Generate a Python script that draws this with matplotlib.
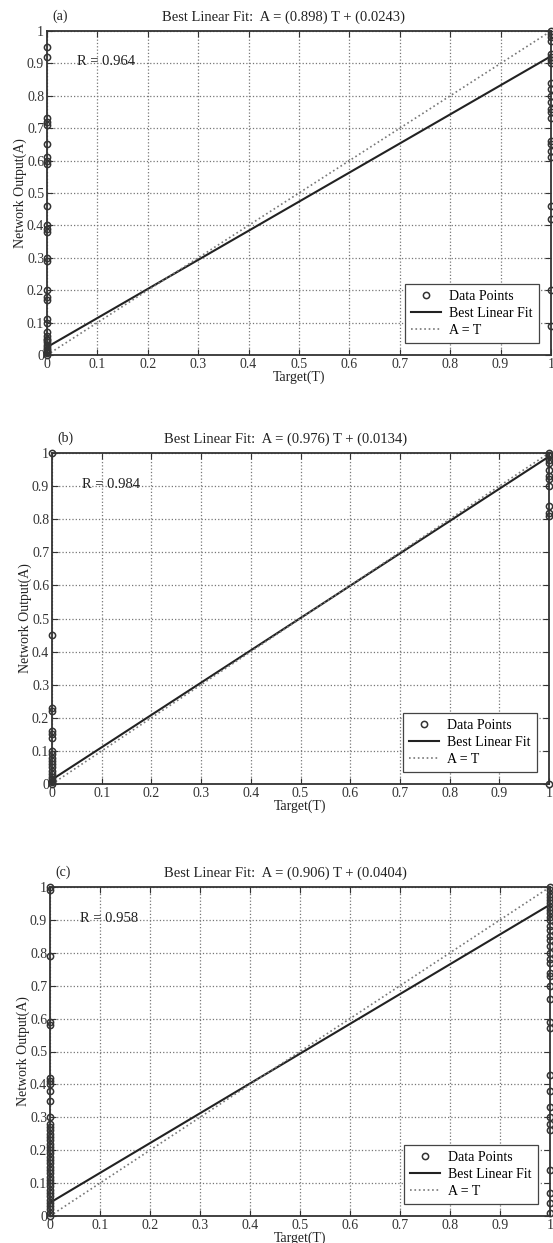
import numpy as np
import matplotlib
matplotlib.use("Agg")
import matplotlib.pyplot as plt

plt.rcParams['font.family'] = ['Liberation Serif', 'DejaVu Serif']

# panel (a)
a_left = [0.95, 0.92, 0.73, 0.72, 0.71, 0.65, 0.61, 0.60, 0.59, 0.46, 0.40, 0.39, 0.38,
          0.30, 0.29, 0.20, 0.18, 0.17, 0.11, 0.10, 0.07, 0.06, 0.05, 0.045, 0.04, 0.03,
          0.025, 0.02, 0.015, 0.01, 0.005, 0.0]
a_right = [1.0, 0.99, 0.98, 0.97, 0.93, 0.92, 0.91, 0.90, 0.84, 0.82, 0.80, 0.78, 0.76,
           0.75, 0.73, 0.66, 0.65, 0.63, 0.61, 0.46, 0.42, 0.20, 0.09]
a_slope, a_icpt, a_r = 0.898, 0.0243, 0.964

# panel (b)
b_left = [1.0, 0.45, 0.23, 0.22, 0.16, 0.15, 0.14, 0.10, 0.09, 0.08, 0.07, 0.06, 0.05,
          0.04, 0.03, 0.02, 0.015, 0.01, 0.005, 0.0]
b_right = [1.0, 0.995, 0.99, 0.98, 0.97, 0.95, 0.93, 0.92, 0.90, 0.84, 0.82, 0.81, 0.0]
b_slope, b_icpt, b_r = 0.976, 0.0134, 0.984

# panel (c)
c_left = [1.0, 0.99, 0.79, 0.59, 0.58, 0.42, 0.41, 0.40, 0.38, 0.35, 0.30, 0.28, 0.27,
          0.26, 0.25, 0.24, 0.23, 0.22, 0.21, 0.20, 0.19, 0.18, 0.17, 0.16, 0.15, 0.14,
          0.13, 0.12, 0.11, 0.10, 0.09, 0.08, 0.07, 0.06, 0.05, 0.04, 0.03, 0.02, 0.01, 0.0]
c_right = [1.0, 0.99, 0.98, 0.97, 0.96, 0.95, 0.94, 0.93, 0.92, 0.91, 0.90, 0.88, 0.87,
           0.85, 0.84, 0.82, 0.80, 0.78, 0.77, 0.74, 0.73, 0.70, 0.66, 0.59, 0.57, 0.43,
           0.38, 0.33, 0.30, 0.28, 0.26, 0.14, 0.07, 0.04, 0.01]
c_slope, c_icpt, c_r = 0.906, 0.0404, 0.958

panels = [
    ("(a)", a_left, a_right, a_slope, a_icpt, a_r, [47/553, 888/1243, 504/553, 324/1243]),
    ("(b)", b_left, b_right, b_slope, b_icpt, b_r, [52/553, 459/1243, 497/553, 331/1243]),
    ("(c)", c_left, c_right, c_slope, c_icpt, c_r, [50/553, 27/1243, 500/553, 329/1243]),
]

fig = plt.figure(figsize=(5.53, 12.43), dpi=100)
ticks = np.round(np.arange(0, 1.01, 0.1), 1)
ticklabels = ['0'] + ['%.1f' % t for t in ticks[1:-1]] + ['1']

for tag, left, right, m, b, r, rect in panels:
    ax = fig.add_axes(rect)
    xs = [0] * len(left) + [1] * len(right)
    ys = left + right
    ax.plot(xs, ys, 'o', mfc='none', mec='#333333', ms=4.5, mew=1.1, label='Data Points',
            clip_on=False, zorder=5)
    t = np.array([0, 1])
    ax.plot(t, m * t + b, '-', color='#222222', lw=1.5, label='Best Linear Fit')
    ax.plot(t, t, ':', color='#777777', lw=1.2, label='A = T')
    ax.set_xlim(0, 1)
    ax.set_ylim(0, 1)
    ax.set_xticks(ticks)
    ax.set_yticks(ticks)
    ax.set_xticklabels(ticklabels)
    ax.set_yticklabels(ticklabels)
    ax.grid(True, linestyle=':', color='#777777', lw=0.9)
    ax.tick_params(direction='in', top=True, right=True, labelsize=10, length=4,
                   colors='#333333', pad=2)
    for s in ax.spines.values():
        s.set_linewidth(1.3)
        s.set_color('#333333')
    ax.set_xlabel('Target(T)', fontsize=10, labelpad=0, color='#222222')
    ax.set_ylabel('Network Output(A)', fontsize=10, labelpad=0, color='#222222')
    ax.set_title('Best Linear Fit:  A = (%s) T + (%s)' % (m, b), fontsize=10.5, pad=7,
                 color='#222222', x=0.47)
    ax.text(0.01, 1.035, tag, transform=ax.transAxes, fontsize=10, color='#222222')
    ax.text(0.06, 0.905, 'R = %s' % r, fontsize=10.5, color='#222222', va='center')
    leg = ax.legend(loc='lower right', fontsize=10, fancybox=False, edgecolor='#444444',
                    framealpha=1, handlelength=2.2, borderaxespad=0.9, labelspacing=0.3,
                    borderpad=0.4, handletextpad=0.6)
    leg.get_frame().set_linewidth(0.9)

fig.savefig('out.png', dpi=100)
